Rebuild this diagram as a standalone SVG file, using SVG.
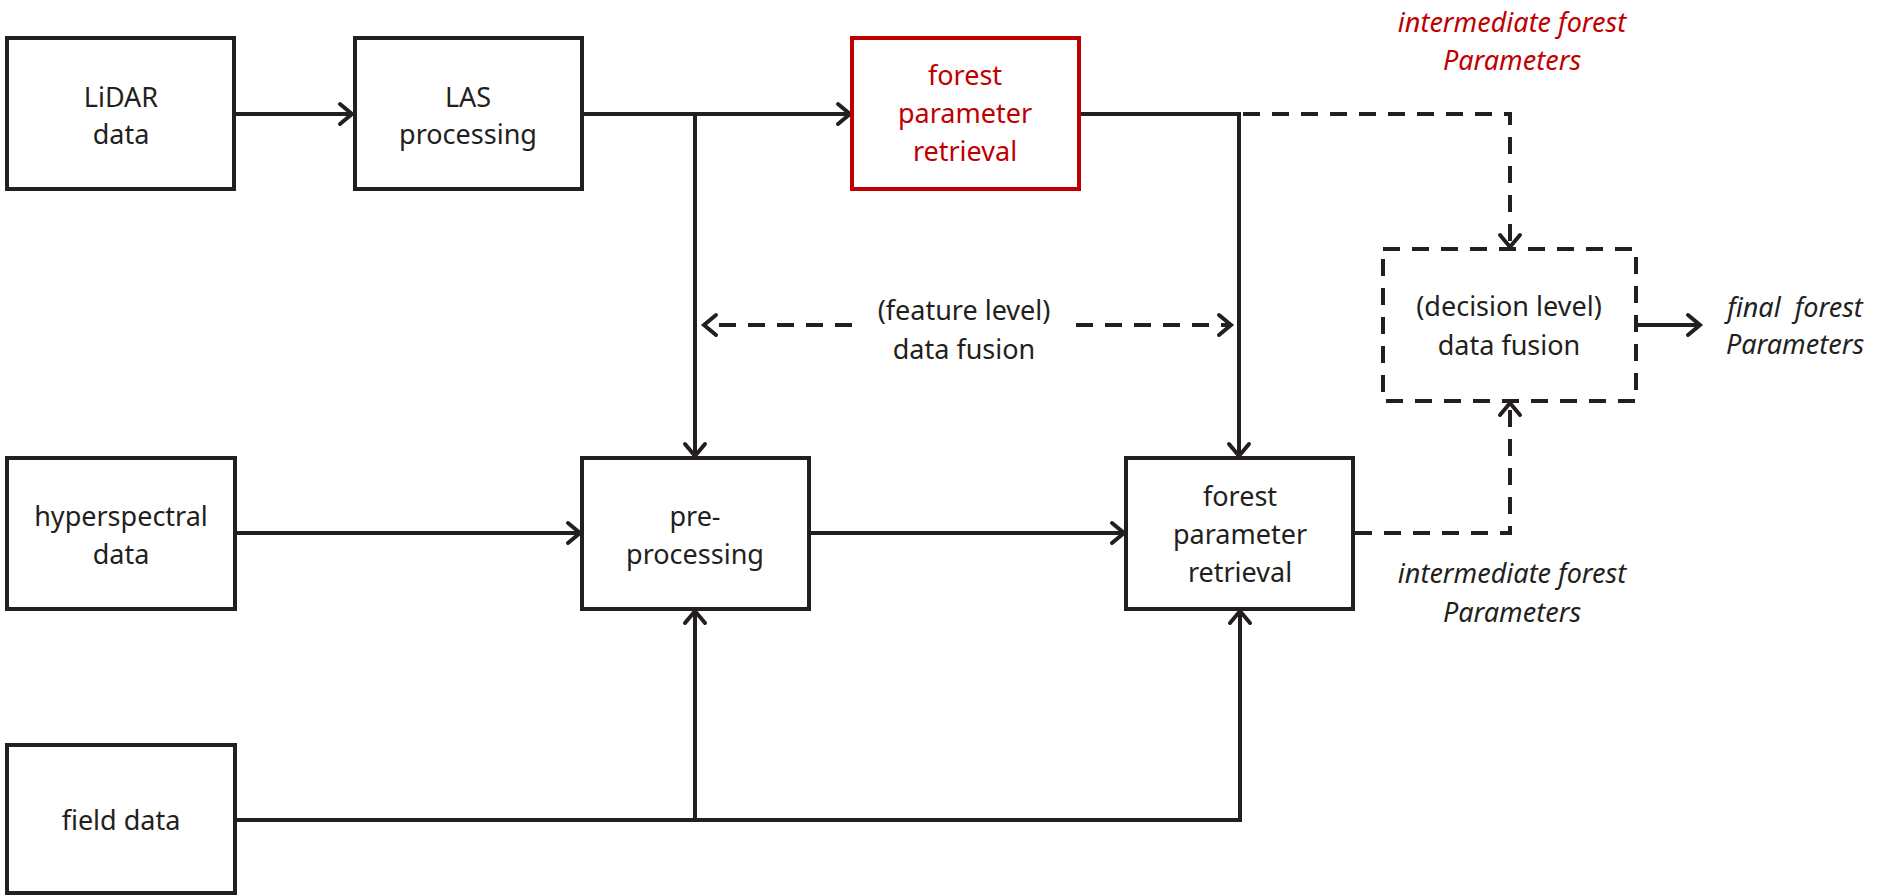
<svg xmlns="http://www.w3.org/2000/svg" width="1884" height="895" viewBox="0 0 1884 895">
<style>
.box{fill:#fff;stroke:#231f20;stroke-width:4}
.red{fill:#fff;stroke:#c00000;stroke-width:4}
.dbox{fill:#fff;stroke:#231f20;stroke-width:4;stroke-dasharray:17 12}
.t{font-family:"Noto Sans","Open Sans",sans-serif;font-size:27px;fill:#231f20;text-anchor:middle}
.tr{fill:#c00000}
.it{font-style:italic}
.ln{fill:none;stroke:#231f20;stroke-width:4}
.ds{fill:none;stroke:#231f20;stroke-width:4;stroke-dasharray:17 12}
</style>
<defs>
<marker id="ah" markerUnits="userSpaceOnUse" markerWidth="24" markerHeight="26" refX="20" refY="12" orient="auto-start-reverse" viewBox="0 0 24 24">
<path d="M8,2 L20,12 L8,22" fill="none" stroke="#231f20" stroke-width="4" stroke-linecap="round" stroke-linejoin="miter"/>
</marker>
</defs>
<g id="connectors">
<line class="ln" x1="234" y1="114" x2="352" y2="114" marker-end="url(#ah)"/>
<line class="ln" x1="582" y1="114" x2="850" y2="114" marker-end="url(#ah)"/>
<line class="ln" x1="695" y1="114" x2="695" y2="456" marker-end="url(#ah)"/>
<line class="ln" x1="1079" y1="114" x2="1239" y2="114"/>
<line class="ln" x1="1239" y1="112" x2="1239" y2="456" marker-end="url(#ah)"/>
<path class="ds" d="M1243,114 H1510 V247" marker-end="url(#ah)"/>
<line class="ln" x1="235" y1="533" x2="580" y2="533" marker-end="url(#ah)"/>
<line class="ln" x1="809" y1="533" x2="1124" y2="533" marker-end="url(#ah)"/>
<path class="ds" d="M1355,533 H1510 V403" marker-end="url(#ah)"/>
<line class="ln" x1="235" y1="820" x2="1242" y2="820"/>
<line class="ln" x1="695" y1="820" x2="695" y2="611" marker-end="url(#ah)"/>
<line class="ln" x1="1240" y1="820" x2="1240" y2="611" marker-end="url(#ah)"/>
<line class="ln" x1="1638" y1="325" x2="1700" y2="325" marker-end="url(#ah)"/>
<line class="ds" x1="852" y1="325" x2="704" y2="325" marker-end="url(#ah)"/>
<line class="ds" x1="1076" y1="325" x2="1231" y2="325" marker-end="url(#ah)"/>
</g>
<g id="lidar">
<rect class="box" x="7" y="38" width="227" height="151"/>
<text class="t" x="121" y="107">LiDAR</text>
<text class="t" x="121" y="144">data</text>
</g>
<g id="las">
<rect class="box" x="355" y="38" width="227" height="151"/>
<text class="t" x="468" y="107">LAS</text>
<text class="t" x="468" y="144">processing</text>
</g>
<g id="retrieval-lidar">
<rect class="red" x="852" y="38" width="227" height="151"/>
<text class="t tr" x="965" y="85">forest</text>
<text class="t tr" x="965" y="123">parameter</text>
<text class="t tr" x="965" y="161">retrieval</text>
</g>
<g id="label-intermediate-top">
<text class="t tr it" x="1512" y="32">intermediate forest</text>
<text class="t tr it" x="1512" y="70">Parameters</text>
</g>
<g id="decision-fusion">
<rect class="dbox" x="1383" y="249" width="253" height="152"/>
<text class="t" x="1509" y="316">(decision level)</text>
<text class="t" x="1509" y="355">data fusion</text>
</g>
<g id="label-final">
<text class="t it" x="1795" y="317">final&#160; forest</text>
<text class="t it" x="1795" y="354">Parameters</text>
</g>
<g id="feature-fusion">
<text class="t" x="964" y="320">(feature level)</text>
<text class="t" x="964" y="359">data fusion</text>
</g>
<g id="hyperspectral">
<rect class="box" x="7" y="458" width="228" height="151"/>
<text class="t" x="121" y="526">hyperspectral</text>
<text class="t" x="121" y="564">data</text>
</g>
<g id="preprocessing">
<rect class="box" x="582" y="458" width="227" height="151"/>
<text class="t" x="695" y="526">pre-</text>
<text class="t" x="695" y="564">processing</text>
</g>
<g id="retrieval-fused">
<rect class="box" x="1126" y="458" width="227" height="151"/>
<text class="t" x="1240" y="506">forest</text>
<text class="t" x="1240" y="544">parameter</text>
<text class="t" x="1240" y="582">retrieval</text>
</g>
<g id="label-intermediate-bottom">
<text class="t it" x="1512" y="583">intermediate forest</text>
<text class="t it" x="1512" y="622">Parameters</text>
</g>
<g id="field">
<rect class="box" x="7" y="745" width="228" height="148"/>
<text class="t" x="121" y="830">field data</text>
</g>
</svg>
